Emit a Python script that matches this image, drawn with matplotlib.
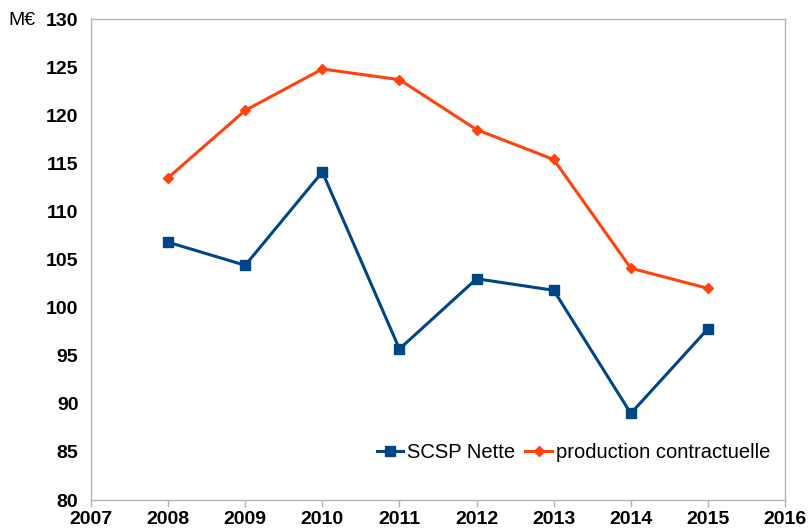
import matplotlib.pyplot as plt

plt.rcParams['font.family'] = ['Liberation Sans', 'DejaVu Sans']

years = [2008, 2009, 2010, 2011, 2012, 2013, 2014, 2015]
scsp_nette = [106.8, 104.4, 114.1, 95.7, 103.0, 101.8, 89.0, 97.8]
production = [113.5, 120.5, 124.8, 123.7, 118.5, 115.4, 104.1, 102.0]

blue = '#004586'
orange = '#ff420e'
grey = '#b3b3b3'

fig = plt.figure(figsize=(8.08, 5.28), dpi=100)
ax = fig.add_axes([0.1126, 0.053, 0.859, 0.911])

ax.plot(years, scsp_nette, color=blue, lw=2.2, marker='s', ms=7,
        label='SCSP Nette')
ax.plot(years, production, color=orange, lw=2.2, marker='D', ms=5.5,
        label='production contractuelle')

ax.set_xlim(2007, 2016)
ax.set_ylim(80, 130)
ax.set_xticks(range(2007, 2017))
ax.set_yticks(range(80, 131, 5))

for s in ax.spines.values():
    s.set_color(grey)
    s.set_linewidth(1)

ax.tick_params(axis='x', direction='out', length=5, color=grey, width=1,
               labelsize=14, pad=3)
ax.tick_params(axis='y', length=0, labelsize=14, pad=9)
for lbl in ax.get_xticklabels() + ax.get_yticklabels():
    lbl.set_fontweight('bold')

fig.text(0.01, 0.962, 'M€', fontsize=14, va='center', ha='left')

ax.legend(loc='center right', bbox_to_anchor=(0.99, 0.098), ncol=2,
          frameon=False, fontsize=14.5, handlelength=1.3, handletextpad=0.2,
          columnspacing=0.5, borderaxespad=0)

fig.savefig('out.png', dpi=100)
